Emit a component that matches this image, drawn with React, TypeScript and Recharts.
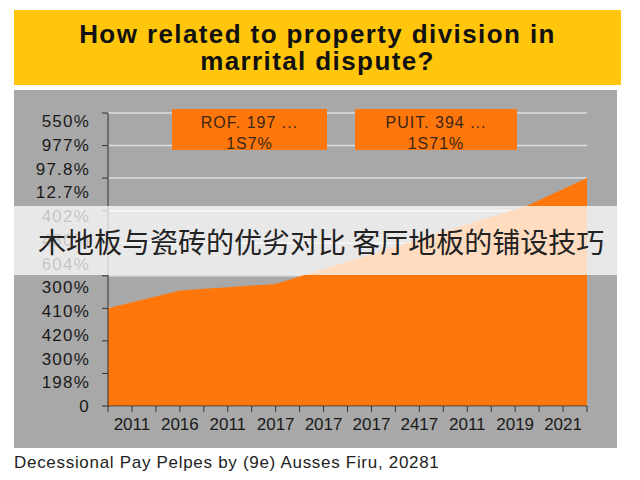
import React from "react";
import {
  ComposedChart,
  Area,
  XAxis,
  YAxis,
  CartesianGrid,
} from "recharts";

// ---- data ----
const titleLines = ["How related to property division in", "marrital dispute?"];
const overlayText = "木地板与瓷砖的优劣对比 客厅地板的铺设技巧";
const captionText = "Decessional Pay Pelpes by (9e) Ausses Firu, 20281";

// x positions (tick index units) and area values (grid units)
const areaX = [0, 3, 7, 17.5, 20];
const areaY = [3.0, 3.55, 3.75, 6.15, 7.0];

const xTicks = Array.from({ length: 21 }, (_, i) => i);
const xLabels = ["2011", "2016", "2011", "2017", "2017", "2017", "2417", "2011", "2019", "2021"];

const gridTicks = [0, 1, 2, 3, 4, 5, 6, 7, 8, 9];
const yLabels = ["0", "198%", "300%", "420%", "410%", "300%", "604%", "480%", "402%", "12.7%", "97.8%", "977%", "550%"];
const yLabelTicks = yLabels.map((_, i) => i);

const legendItems = [
  { name: "ROF. 197 ...", value: "1S7%" },
  { name: "PUIT. 394 ...", value: "1S71%" },
];

const data = areaX.map((x, i) => ({ x, v: areaY[i] }));

const FONT = "'Liberation Sans', Arial, sans-serif";
const ORANGE = "#FF770A";

export default function App() {
  return (
    <div
      style={{
        position: "fixed",
        left: 0,
        top: 0,
        width: 640,
        height: 480,
        background: "#ffffff",
        overflow: "hidden",
        fontFamily: FONT,
      }}
    >
      {/* title band */}
      <div
        style={{
          position: "absolute",
          left: 14,
          top: 10,
          width: 607,
          height: 75,
          background: "#FFC60B",
          display: "flex",
          flexDirection: "column",
          alignItems: "center",
          justifyContent: "center",
          fontWeight: "bold",
          fontSize: 26,
          letterSpacing: 1.4,
          lineHeight: "27px",
          color: "#111",
        }}
      >
        {titleLines.map((t, i) => (
          <div key={i}>{t}</div>
        ))}
      </div>
      {/* grey panel */}
      <div
        style={{
          position: "absolute",
          left: 14,
          top: 90,
          width: 603,
          height: 358,
          background: "#A8A8A8",
        }}
      />
      <div style={{ position: "absolute", left: 0, top: 0 }}>
        <ComposedChart
          width={640}
          height={480}
          data={data}
          margin={{ top: 113, right: 53, bottom: 44, left: 0 }}
        >
          <CartesianGrid
            yAxisId="grid"
            vertical={false}
            stroke="#DEDEDE"
            strokeWidth={1.5}
          />
          <XAxis
            dataKey="x"
            type="number"
            domain={[0, 20]}
            ticks={xTicks}
            interval={0}
            height={30}
            allowDataOverflow
            stroke="#333"
            tickSize={6}
            tickMargin={6}
            tick={{ fontSize: 17, fill: "#1a1a1a", fontFamily: FONT }}
            tickFormatter={(v: number) => (v % 2 === 1 ? xLabels[(v - 1) / 2] : "")}
          />
          <YAxis
            yAxisId="lbl"
            type="number"
            domain={[0, 12.34]}
            ticks={yLabelTicks}
            interval={0}
            allowDataOverflow
            width={100}
            axisLine={false}
            tickLine={false}
            tickMargin={4}
            tick={{ fontSize: 17, fill: "#1a1a1a", fontFamily: FONT, letterSpacing: 1.2 }}
            tickFormatter={(v: number) => yLabels[v]}
          />
          <YAxis
            yAxisId="grid"
            type="number"
            domain={[0, 9]}
            ticks={gridTicks}
            interval={0}
            allowDataOverflow
            width={8}
            stroke="#333"
            tickSize={6}
            tick={() => <g />}
          />
          <Area
            yAxisId="grid"
            type="linear"
            dataKey="v"
            fill={ORANGE}
            fillOpacity={1}
            stroke="none"
            isAnimationActive={false}
          />
        </ComposedChart>
      </div>
      {/* legend boxes */}
      {legendItems.map((it, i) => (
        <div
          key={i}
          style={{
            position: "absolute",
            left: i === 0 ? 172 : 355,
            top: 109,
            width: i === 0 ? 155 : 162,
            height: 41,
            boxSizing: "border-box",
            paddingTop: 6,
            background: ORANGE,
            color: "#3a2616",
            fontSize: 16,
            letterSpacing: 1,
            lineHeight: "21px",
            textAlign: "center",
            display: "flex",
            flexDirection: "column",
            justifyContent: "center",
          }}
        >
          <div>{it.name}</div>
          <div>{it.value}</div>
        </div>
      ))}
      {/* overlay band */}
      <div
        style={{
          position: "absolute",
          left: 14,
          top: 206,
          width: 607,
          height: 69,
          background: "rgba(255,255,255,0.74)",
        }}
      />
      <div
        style={{
          position: "absolute",
          left: 38,
          top: 206,
          height: 69,
          display: "flex",
          alignItems: "center",
          fontFamily: "'Noto Sans CJK SC', sans-serif",
          fontSize: 28,
          color: "#222",
          whiteSpace: "nowrap",
        }}
      >
        {overlayText}
      </div>
      {/* caption */}
      <div
        style={{
          position: "absolute",
          left: 14,
          top: 453,
          fontSize: 17,
          letterSpacing: 0.7,
          lineHeight: "20px",
          color: "#222",
          whiteSpace: "nowrap",
        }}
      >
        {captionText}
      </div>
    </div>
  );
}
